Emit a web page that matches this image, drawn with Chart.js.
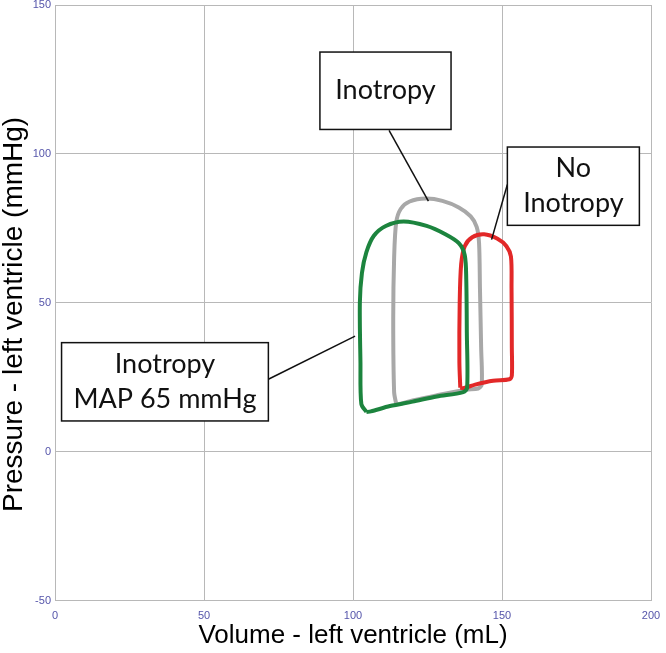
<!DOCTYPE html>
<html>
<head>
<meta charset="utf-8">
<script src="https://cdn.jsdelivr.net/npm/chart.js@4.4.1/dist/chart.umd.min.js"></script>
<style>
  html, body { margin: 0; padding: 0; background: #fff; }
  #wrap { width: 666px; height: 653px; position: relative; }
</style>
</head>
<body>
<div id="wrap"><canvas id="pvChart"></canvas></div>
<script>
// PV loops (volume in mL, pressure in mmHg)
const greenVolume = [104.5, 102.8, 102.5, 102.3, 103.0, 104.5, 107.0, 111.0, 117.0, 124.7, 131.0, 135.5,
    137.5, 138.0, 138.2, 138.3, 137.0, 128.1, 120.0, 112.4, 106.0, 104.5];
const greenPressure = [13.3, 16.0, 30.0, 50.0, 60.0, 67.0, 72.5, 75.8, 77.3, 75.8, 73.0, 70.0,
    66.0, 58.0, 40.0, 21.5, 20.0, 18.5, 16.8, 15.3, 13.5, 13.3];

const grayVolume = [114.5, 113.8, 113.5, 113.8, 114.5, 116.0, 119.0, 124.5, 130.0, 135.5, 139.5, 141.5,
    142.3, 142.6, 143.0, 143.2, 142.0, 138.0, 128.0, 120.0, 115.5, 114.5];
const grayPressure = [16.0, 20.0, 45.0, 65.0, 77.0, 81.5, 84.0, 85.0, 84.2, 82.0, 79.0, 75.5,
    70.0, 55.0, 35.0, 22.5, 21.2, 20.8, 18.9, 17.2, 16.0, 16.0];

const redVolume = [136.0, 135.7, 135.8, 136.3, 137.5, 140.0, 144.0, 148.5, 151.5, 153.0, 153.2,
    153.3, 153.3, 152.5, 147.0, 141.0, 137.0, 136.0];
const redPressure = [21.5, 30.0, 50.0, 63.0, 69.0, 72.0, 73.0, 71.5, 69.0, 65.5, 55.0,
    35.0, 25.5, 24.3, 23.8, 22.5, 21.3, 21.5];

const xTicks = [0, 50, 100, 150, 200];
const yTicks = [-50, 0, 50, 100, 150];

// callout boxes (data coordinates)
const callouts = [
  { lines: ['Inotropy'], box: [88.9, 134.2, 132.9, 108.2], from: [112.1, 107.9], to: [125.3, 84.1] },
  { lines: ['No', 'Inotropy'], box: [151.8, 102.3, 196.1, 76.0], from: [151.8, 89.7], to: [146.5, 71.2] },
  { lines: ['Inotropy', 'MAP 65 mmHg'], box: [2.2, 36.6, 71.6, 10.3], from: [71.6, 24.3], to: [100.7, 38.8] }
];

function toPoints(xs, ys) {
  return xs.map((x, i) => ({ x: x, y: ys[i] }));
}

const calloutPlugin = {
  id: 'callouts',
  afterDatasetsDraw(chart) {
    const ctx = chart.ctx;
    const sx = chart.scales.x, sy = chart.scales.y;
    ctx.save();
    callouts.forEach(c => {
      const x1 = sx.getPixelForValue(c.box[0]), y1 = sy.getPixelForValue(c.box[1]);
      const x2 = sx.getPixelForValue(c.box[2]), y2 = sy.getPixelForValue(c.box[3]);
      ctx.strokeStyle = '#111';
      ctx.lineWidth = 1.5;
      ctx.beginPath();
      ctx.moveTo(sx.getPixelForValue(c.from[0]), sy.getPixelForValue(c.from[1]));
      ctx.lineTo(sx.getPixelForValue(c.to[0]), sy.getPixelForValue(c.to[1]));
      ctx.stroke();
      ctx.fillStyle = '#fff';
      ctx.fillRect(x1, y1, x2 - x1, y2 - y1);
      ctx.strokeRect(x1, y1, x2 - x1, y2 - y1);
      ctx.fillStyle = '#111';
      ctx.font = '27px Lato';
      ctx.textAlign = 'center';
      ctx.textBaseline = 'middle';
      const cx = (x1 + x2) / 2, cy = (y1 + y2) / 2;
      const lh = 35;
      c.lines.forEach((t, i) => {
        ctx.fillText(t, cx, cy + (i - (c.lines.length - 1) / 2) * lh);
      });
    });
    ctx.restore();
  }
};

document.addEventListener('DOMContentLoaded', function() {
  const gridColor = '#b8b8b8';
  const tickFont = { family: 'Liberation Sans', size: 11 };

  new Chart(document.getElementById('pvChart').getContext('2d'), {
    type: 'scatter',
    data: {
      datasets: [
        { data: toPoints(greenVolume, greenPressure), borderColor: 'rgb(28,132,62)' },
        { data: toPoints(redVolume, redPressure), borderColor: 'rgb(226,40,40)' },
        { data: toPoints(grayVolume, grayPressure), borderColor: 'rgb(168,168,168)' }
      ].map(d => Object.assign(d, {
        showLine: true, fill: false, pointRadius: 0, borderWidth: 4, tension: 0.3
      }))
    },
    options: {
      responsive: true,
      maintainAspectRatio: false,
      animation: false,
      layout: { padding: { top: 5, right: 15, left: 0, bottom: 4 } },
      plugins: { legend: false, tooltip: { enabled: false } },
      scales: {
        x: {
          type: 'linear', min: 0, max: 200,
          afterBuildTicks: s => { s.ticks = xTicks.map(v => ({ value: v })); },
          afterFit: s => { s.height = 48.5; s.paddingLeft = 0; s.paddingRight = 0; },
          grid: { color: gridColor, drawTicks: false },
          border: { color: gridColor },
          ticks: { color: 'rgb(85,85,170)', font: tickFont, padding: 9, maxRotation: 0 },
          title: { display: true, text: 'Volume - left ventricle (mL)', color: '#000',
                   font: { family: 'Liberation Sans', size: 26, lineHeight: 1 }, padding: 0 }
        },
        y: {
          type: 'linear', min: -50, max: 150,
          afterBuildTicks: s => { s.ticks = yTicks.map(v => ({ value: v })); },
          afterFit: s => { s.width = 55; s.paddingTop = 0; s.paddingBottom = 0; },
          grid: { color: gridColor, drawTicks: false },
          border: { color: gridColor },
          ticks: { color: 'rgb(85,85,170)', font: tickFont, padding: 4 },
          title: { display: true, text: 'Pressure - left ventricle (mmHg)\u00a0\u00a0\u00a0', color: '#000',
                   font: { family: 'Liberation Sans', size: 28, lineHeight: 1 }, padding: 0 }
        }
      }
    },
    plugins: [calloutPlugin]
  });
});
</script>
</body>
</html>
